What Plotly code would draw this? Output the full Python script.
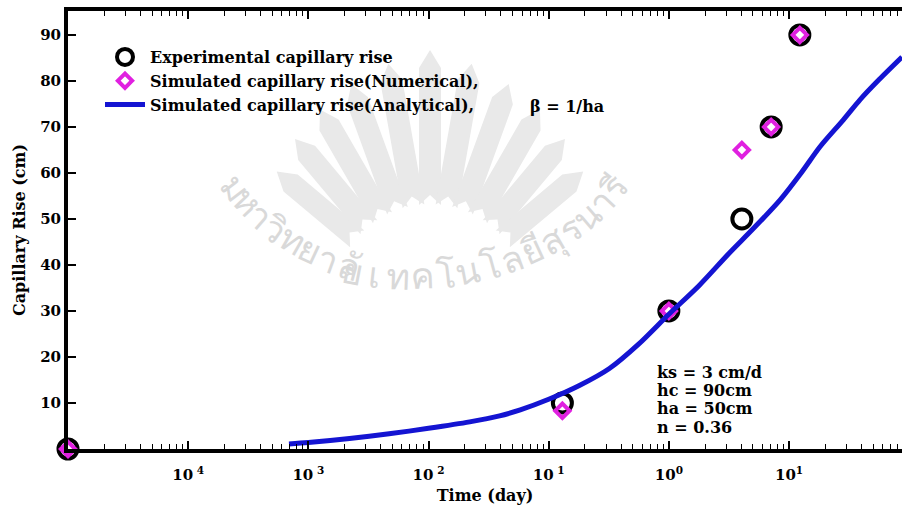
import math
import plotly.graph_objects as go

# ---- data ----
exp_time = [1e-5, 0.13, 1.0, 4.05, 7.1, 12.3]
exp_rise = [0, 10, 30, 50, 70, 90]

num_time = [1e-5, 0.13, 1.0, 4.05, 7.1, 12.3]
num_rise = [0, 8.3, 30, 65, 70, 90]

ana_time = [6.9e-4, 1e-3, 2.2e-3, 4.7e-3, 0.01, 0.022, 0.039, 0.058, 0.1, 0.18,
            0.32, 0.56, 1.0, 1.78, 3.16, 5.0, 8.4, 12.6, 18.1, 28.2, 38.9, 56.2, 87.1]
ana_rise = [1.1, 1.4, 2.3, 3.3, 4.5, 5.9, 7.2, 8.5, 10.8, 13.8,
            17.5, 22.8, 29.3, 35.5, 42.5, 47.8, 54.1, 60.0, 65.7, 71.5, 75.9, 80.3, 85.2]

x_tickvals = [1e-4, 1e-3, 1e-2, 1e-1, 1e0, 1e1]
x_ticktext = ["10<sup> 4</sup>", "10<sup> 3</sup>", "10<sup> 2</sup>",
              "10<sup> 1</sup>", "10<sup>0</sup>", "10<sup>1</sup>"]
y_tickvals = [10, 20, 30, 40, 50, 60, 70, 80, 90]

legend_names = ["Experimental capillary rise",
                "Simulated capillary rise(Numerical),",
                "Simulated capillary rise(Analytical),"]
beta_text = "β = 1/ha"
params_lines = ["ks = 3 cm/d", "hc = 90cm", "ha = 50cm", "n = 0.36"]
watermark = ["ม", "ห", "า", "วิ", "ท", "ย", "า", "ลั", "ย", "เ", "ท", "ค", "โ", "น", "โ", "ล", "ยี", "สุ", "ร", "น", "า", "รี"]

FONT = "DejaVu Serif"
W, H = 902, 510
L, R, T, B = 68, 0, 11, 61
PW, PH = W - L - R, H - T - B


def px(x):
    return (x - L) / PW


def py(y):
    return (H - B - y) / PH


minor_vals = [m * 10.0 ** e for e in range(-5, 3) for m in range(2, 10)]

fig = go.Figure()
fig.add_trace(go.Scatter(
    x=exp_time, y=exp_rise, mode="markers", name="<b>" + legend_names[0] + "</b>",
    marker=dict(symbol="circle-open", size=19, color="black", line=dict(width=4, color="black")),
    cliponaxis=False))
fig.add_trace(go.Scatter(
    x=num_time, y=num_rise, mode="markers", name="<b>" + legend_names[1] + "</b>",
    marker=dict(symbol="diamond-open", size=11, color="#e020e0", line=dict(width=4, color="#e020e0")),
    cliponaxis=False))
fig.add_trace(go.Scatter(
    x=ana_time, y=ana_rise, mode="lines", name="<b>" + legend_names[2] + "</b>",
    line=dict(color="#1414d2", width=5, shape="spline", smoothing=0.8)))

axis_common = dict(ticks="inside", ticklen=8, tickwidth=1.5, tickcolor="black",
                   showgrid=False, zeroline=False,
                   tickfont=dict(family=FONT, size=15, color="black"))

fig.update_layout(
    width=W, height=H,
    margin=dict(l=L, r=R, t=T, b=B),
    paper_bgcolor="white", plot_bgcolor="white",
    font=dict(family=FONT, color="black", size=16),
    showlegend=True,
    legend=dict(x=px(100), y=py(40), xanchor="left", yanchor="top",
                bgcolor="rgba(0,0,0,0)", font=dict(family=FONT, size=16, color="black"),
                itemwidth=40, tracegroupgap=0),
    xaxis=dict(type="log", range=[-5.0, 1.94],
               tickvals=x_tickvals, ticktext=["<b>" + t + "</b>" for t in x_ticktext],
               showline=True, linewidth=4, linecolor="black", mirror="allticks",
               ticklabelstandoff=9,
               minor=dict(tickvals=minor_vals, ticks="inside", ticklen=5, tickwidth=1.2,
                          tickcolor="black", showgrid=False),
               title=dict(text="<b>Time (day)</b>", font=dict(family=FONT, size=16), standoff=8),
               **axis_common),
    yaxis=dict(range=[0, 95.2], tickvals=y_tickvals,
               ticktext=["<b>%d</b>" % v for v in y_tickvals],
               showline=True, linewidth=4, linecolor="black", mirror=False,
               title=dict(text="<b>Capillary Rise (cm)</b>", font=dict(family=FONT, size=16), standoff=12),
               **axis_common),
    yaxis2=dict(range=[0, 95.2], tickvals=y_tickvals, overlaying="y", side="right",
                showticklabels=False, showline=False, ticks="inside", ticklen=8,
                tickwidth=1.5, tickcolor="black", showgrid=False, zeroline=False),
)

fig.add_annotation(xref="paper", yref="paper", x=px(528), y=py(106),
                   xanchor="left", yanchor="middle", showarrow=False,
                   text="<b>" + beta_text + "</b>", font=dict(family=FONT, size=16, color="black"))
for i, line in enumerate(params_lines):
    fig.add_annotation(xref="paper", yref="paper", x=px(655), y=py(372 + 18.4 * i),
                       xanchor="left", yanchor="middle", showarrow=False,
                       text="<b>" + line + "</b>",
                       font=dict(family=FONT, size=16, color="black"))

# faint watermark: fan of pointed stripes + arched Thai text
cx, cy = 430, 300
shapes = []
n_str = 11
for i in range(n_str):
    a = math.radians(-50 + 100 * i / (n_str - 1))
    r0, r1 = 95, 250 - abs(i - (n_str - 1) / 2) * 10
    hw = 11
    ux, uy = math.sin(a), -math.cos(a)
    vx, vy = math.cos(a), math.sin(a)
    pts = [
        (cx + ux * r0 - vx * hw, cy + uy * r0 - vy * hw),
        (cx + ux * (r0 + 10), cy + uy * (r0 + 10)),
        (cx + ux * r0 + vx * hw, cy + uy * r0 + vy * hw),
        (cx + ux * (r1 - 18) + vx * hw, cy + uy * (r1 - 18) + vy * hw),
        (cx + ux * r1, cy + uy * r1),
        (cx + ux * (r1 - 18) - vx * hw, cy + uy * (r1 - 18) - vy * hw),
    ]
    path = "M " + " L ".join("%.4f,%.4f" % (px(x), py(y)) for x, y in pts) + " Z"
    shapes.append(dict(type="path", xref="paper", yref="paper", path=path,
                       fillcolor="#e9e9e9", line=dict(width=0), layer="below"))
fig.update_layout(shapes=shapes)

ecx, ecy, ea, eb = 410, 98, 235, 178
n = len(watermark)
for k, ch in enumerate(watermark):
    th = math.radians(150 - 120 * k / (n - 1))
    x = ecx + ea * math.cos(th)
    y = ecy + eb * math.sin(th)
    dx = -ea * math.sin(th)
    dy = eb * math.cos(th)
    ang = math.degrees(math.atan2(-dy, -dx))
    fig.add_annotation(xref="paper", yref="paper", x=px(x), y=py(y),
                       showarrow=False, text=ch, textangle=ang,
                       font=dict(family="Noto Sans", size=36, color="#d9d9d9"))

fig.write_html("out.html")
